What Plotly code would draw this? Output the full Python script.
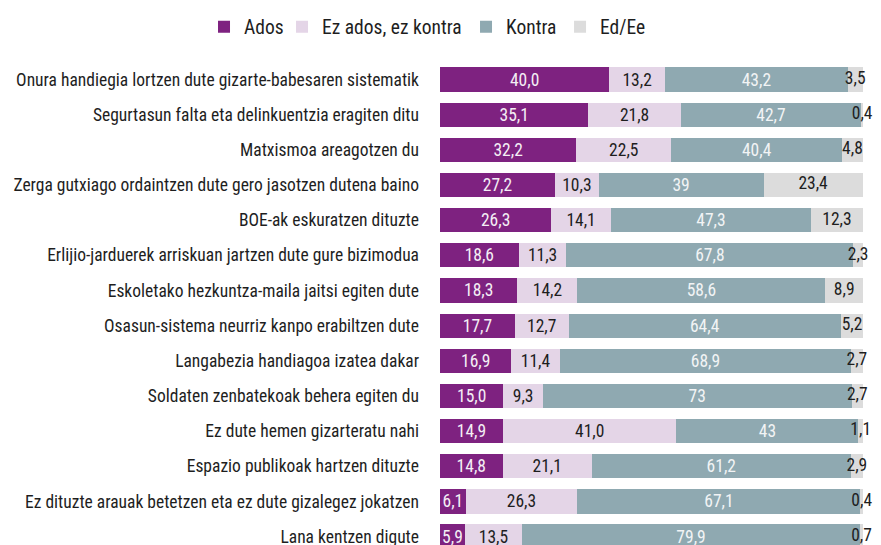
import plotly.graph_objects as go

categories = [
    "Onura handiegia lortzen dute gizarte-babesaren sistematik",
    "Segurtasun falta eta delinkuentzia eragiten ditu",
    "Matxismoa areagotzen du",
    "Zerga gutxiago ordaintzen dute gero jasotzen dutena baino",
    "BOE-ak eskuratzen dituzte",
    "Erlijio-jarduerek arriskuan jartzen dute gure bizimodua",
    "Eskoletako hezkuntza-maila jaitsi egiten dute",
    "Osasun-sistema neurriz kanpo erabiltzen dute",
    "Langabezia handiagoa izatea dakar",
    "Soldaten zenbatekoak behera egiten du",
    "Ez dute hemen gizarteratu nahi",
    "Espazio publikoak hartzen dituzte",
    "Ez dituzte arauak betetzen eta ez dute gizalegez jokatzen",
    "Lana kentzen digute",
]
ados = [40.0, 35.1, 32.2, 27.2, 26.3, 18.6, 18.3, 17.7, 16.9, 15.0, 14.9, 14.8, 6.1, 5.9]
ez_ados = [13.2, 21.8, 22.5, 10.3, 14.1, 11.3, 14.2, 12.7, 11.4, 9.3, 41.0, 21.1, 26.3, 13.5]
kontra = [43.2, 42.7, 40.4, 39, 47.3, 67.8, 58.6, 64.4, 68.9, 73, 43, 61.2, 67.1, 79.9]
ed_ee = [3.5, 0.4, 4.8, 23.4, 12.3, 2.3, 8.9, 5.2, 2.7, 2.7, 1.1, 2.9, 0.4, 0.7]

# labels as printed (decimal comma; some integers printed without decimals)
ados_lbl = ["40,0", "35,1", "32,2", "27,2", "26,3", "18,6", "18,3", "17,7", "16,9", "15,0", "14,9", "14,8", "6,1", "5,9"]
ez_ados_lbl = ["13,2", "21,8", "22,5", "10,3", "14,1", "11,3", "14,2", "12,7", "11,4", "9,3", "41,0", "21,1", "26,3", "13,5"]
kontra_lbl = ["43,2", "42,7", "40,4", "39", "47,3", "67,8", "58,6", "64,4", "68,9", "73", "43", "61,2", "67,1", "79,9"]
ed_ee_lbl = ["3,5", "0,4", "4,8", "23,4", "12,3", "2,3", "8,9", "5,2", "2,7", "2,7", "1,1", "2,9", "0,4", "0,7"]

FONT = "Roboto Condensed, Roboto, sans-serif"
DARK = "#1e1e1e"
TXT = 17.5

series = [
    ("Ados", ados, ados_lbl, "#7E2280", "#F4EEF5", "legend"),
    ("Ez ados, ez kontra", ez_ados, ez_ados_lbl, "#E4D5E7", DARK, "legend2"),
    ("Kontra", kontra, kontra_lbl, "#8FA9B1", "#F2F4F5", "legend3"),
]

fig = go.Figure()
for name, vals, lbls, color, tcolor, leg in series:
    fig.add_trace(go.Bar(
        name=name, y=categories, x=vals, orientation="h",
        marker=dict(color=color, line=dict(width=0)),
        text=lbls, textposition="inside", insidetextanchor="middle",
        textangle=0, constraintext="none",
        textfont=dict(color=tcolor, size=TXT, family=FONT),
        hoverinfo="skip", legend=leg,
    ))

fig.add_trace(go.Bar(
    name="Ed/Ee", y=categories, x=ed_ee, orientation="h",
    marker=dict(color="#DCDCDC", line=dict(width=0)),
    hoverinfo="skip", legend="legend4",
))

# Ed/Ee labels centred on their segment, allowed to overflow the right edge
mid_ed = [a + b + c + d / 2 for a, b, c, d in zip(ados, ez_ados, kontra, ed_ee)]
fig.add_trace(go.Scatter(
    x=mid_ed, y=categories, mode="text", text=ed_ee_lbl,
    textposition="middle center",
    textfont=dict(color=DARK, size=TXT, family=FONT),
    showlegend=False, cliponaxis=False, hoverinfo="skip",
))


def leg(x):
    return dict(
        orientation="h",
        xref="container", yref="container",
        x=x, xanchor="left",
        y=0.9651, yanchor="middle",
        font=dict(size=19.5, family=FONT, color=DARK),
        itemwidth=30,
        bgcolor="rgba(0,0,0,0)",
    )


fig.update_layout(
    width=865, height=545,
    barmode="stack", bargap=0.31,
    plot_bgcolor="white", paper_bgcolor="white",
    margin=dict(l=432, r=10, t=54, b=8),
    font=dict(family=FONT, size=TXT, color=DARK),
    uniformtext=dict(minsize=TXT, mode="show"),
    legend=leg(0.2266),
    legend2=leg(0.3168),
    legend3=leg(0.5295),
    legend4=leg(0.6382),
    xaxis=dict(range=[0, 100], visible=False, fixedrange=True),
    yaxis=dict(
        categoryorder="array", categoryarray=categories,
        range=[13.24, -0.5],
        showgrid=False, zeroline=False, showline=False, ticks="",
        ticklabelstandoff=20, automargin=False,
        tickfont=dict(size=TXT, family=FONT, color=DARK),
    ),
)

fig.write_html("out.html")
